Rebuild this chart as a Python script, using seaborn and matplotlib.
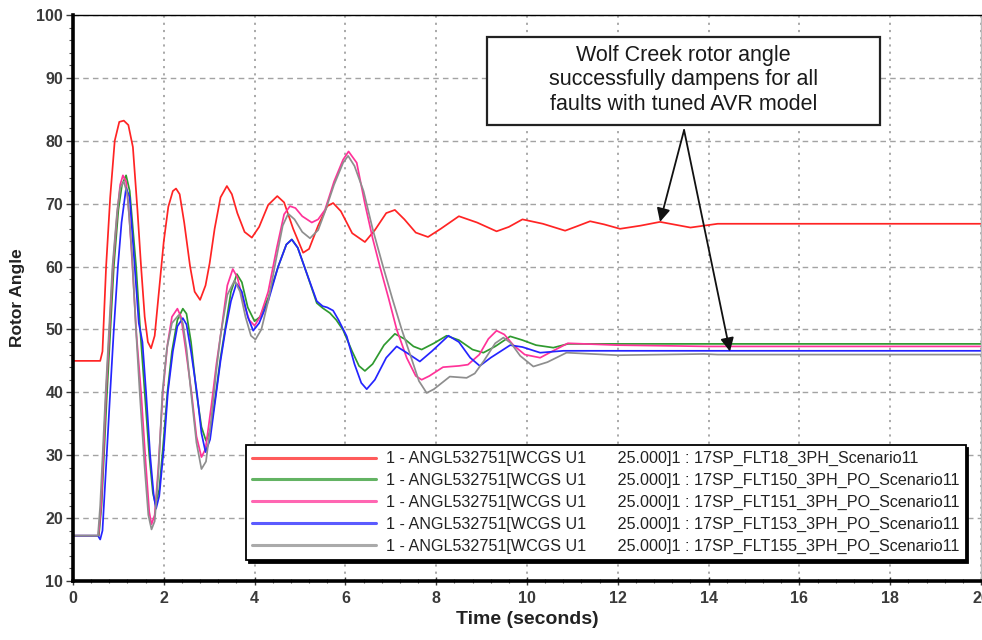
import matplotlib
matplotlib.use("Agg")
import matplotlib.pyplot as plt
from matplotlib.lines import Line2D
from matplotlib.patches import Rectangle
from matplotlib.ticker import MultipleLocator
import seaborn as sns
import pandas as pd

# ---------------- data ----------------
series_names = [
    "1 - ANGL532751[WCGS U1       25.000]1 : 17SP_FLT18_3PH_Scenario11",
    "1 - ANGL532751[WCGS U1       25.000]1 : 17SP_FLT150_3PH_PO_Scenario11",
    "1 - ANGL532751[WCGS U1       25.000]1 : 17SP_FLT151_3PH_PO_Scenario11",
    "1 - ANGL532751[WCGS U1       25.000]1 : 17SP_FLT153_3PH_PO_Scenario11",
    "1 - ANGL532751[WCGS U1       25.000]1 : 17SP_FLT155_3PH_PO_Scenario11",
]
series_colors = ["#ff2424", "#2f9a2f", "#ff3399", "#2424ff", "#8e8e8e"]

red_t = [0, 0.6, 0.65, 0.73, 0.82, 0.92, 1.02, 1.12, 1.22, 1.32,
         1.42, 1.5, 1.58, 1.65, 1.72, 1.8, 1.92, 2.0, 2.1, 2.2,
         2.27, 2.35, 2.45, 2.58, 2.68, 2.8, 2.92, 3.01, 3.12, 3.25,
         3.39, 3.5, 3.62, 3.78, 3.94, 4.1, 4.3, 4.5, 4.65, 4.85,
         5.07, 5.2, 5.4, 5.6, 5.73, 5.9, 6.15, 6.43, 6.65, 6.9,
         7.09, 7.3, 7.55, 7.82, 8.1, 8.5, 8.9, 9.33, 9.6, 9.9,
         10.35, 10.84, 11.1, 11.39, 11.7, 12.05, 12.5, 12.93, 13.6, 14.2,
         16, 20]
red_v = [45, 45, 46.5, 60, 71, 80, 83, 83.2, 82.5, 79,
         69, 60, 52, 48, 47, 49, 58, 64, 69.5, 72,
         72.4, 71.5, 67, 60, 56, 54.7, 57, 60.5, 66, 71,
         72.8, 71.5, 68.5, 65.5, 64.6, 66.3, 69.8, 71.2, 70.2, 66,
         62.2, 62.8, 66.5, 69.6, 70.1, 68.8, 65.3, 63.9, 65.8, 68.5,
         69, 67.5, 65.4, 64.7, 66, 68, 67, 65.6, 66.3, 67.5,
         66.8, 65.7, 66.4, 67.2, 66.7, 66, 66.5, 67.1, 66.2, 66.8,
         66.8, 66.8]

green_t = [0, 0.57, 0.63, 0.75, 0.9, 1.0, 1.08, 1.17, 1.25, 1.32,
           1.39, 1.48, 1.58, 1.68, 1.76, 1.82, 1.9, 1.98, 2.08, 2.18,
           2.3, 2.42, 2.5, 2.6, 2.72, 2.83, 2.93, 3.03, 3.15, 3.25,
           3.35, 3.48, 3.61, 3.72, 3.85, 4.0, 4.12, 4.3, 4.52, 4.7,
           4.82, 4.95, 5.15, 5.37, 5.5, 5.66, 5.8, 5.95, 6.15, 6.3,
           6.43, 6.6, 6.85, 7.09, 7.3, 7.5, 7.68, 7.95, 8.23, 8.5,
           8.8, 9.04, 9.3, 9.63, 9.9, 10.2, 10.58, 10.9, 12, 20]
green_v = [17.2, 17.2, 22, 40, 60, 69, 73, 74.5, 72, 66,
           60, 50, 40, 30, 24, 22.2, 24.5, 31, 40, 46.5,
           51.5, 53.3, 52.5, 48, 40, 34.5, 32.3, 34, 40, 45.5,
           50, 56, 58.8, 57.5, 53.5, 51.3, 52, 55, 60, 63.5,
           64.3, 63, 58.9, 54.2, 53.4, 52.6, 51.5, 49.9, 46.5, 44.2,
           43.4, 44.5, 47.5, 49.3, 48.5, 47.3, 46.8, 47.8, 49, 48.3,
           46.8, 46.3, 47.3, 48.9, 48.3, 47.5, 47.1, 47.7, 47.7, 47.7]

pink_t = [0, 0.56, 0.62, 0.73, 0.88, 0.98, 1.04, 1.1, 1.17, 1.24,
          1.31, 1.4, 1.5, 1.6, 1.68, 1.73, 1.8, 1.88, 1.98, 2.08,
          2.18, 2.3, 2.38, 2.48, 2.61, 2.72, 2.83, 2.92, 3.05, 3.16,
          3.27, 3.4, 3.52, 3.62, 3.75, 3.88, 4.0, 4.12, 4.3, 4.49,
          4.65, 4.78, 4.9, 5.05, 5.26, 5.4, 5.55, 5.75, 5.95, 6.07,
          6.25, 6.43, 6.6, 6.76, 6.95, 7.13, 7.35, 7.55, 7.68, 7.85,
          8.15, 8.5, 8.7, 8.95, 9.15, 9.33, 9.5, 9.7, 9.95, 10.29,
          10.55, 10.9, 12, 14, 20]
pink_v = [17.2, 17.2, 22, 40, 60, 69, 73, 74.5, 73.5, 68,
          60, 49, 40, 29, 21, 19, 20.5, 28, 40, 47.5,
          52, 53.3, 52, 47, 40, 33, 29.7, 31, 38, 44.5,
          50, 57, 59.6, 58.3, 54.5, 51.5, 50.6, 52, 56, 63,
          68.3, 69.6, 69.3, 68, 67, 67.5, 69, 73.5, 77, 78.3,
          76.5, 70, 64.5, 60, 55, 50, 45.5, 42.6, 42, 42.6,
          44, 44.2, 44.4, 46, 48.5, 49.8, 49.2, 47.5, 46, 45.5,
          46.5, 47.8, 47.5, 47.3, 47.3]

blue_t = [0, 0.55, 0.6, 0.65, 0.72, 0.82, 0.9, 0.99, 1.07, 1.17,
          1.25, 1.3, 1.36, 1.45, 1.53, 1.61, 1.7, 1.78, 1.83, 1.9,
          2.0, 2.09, 2.2, 2.3, 2.42, 2.5, 2.6, 2.73, 2.83, 2.92,
          3.02, 3.14, 3.25, 3.36, 3.48, 3.6, 3.72, 3.85, 3.97, 4.1,
          4.3, 4.52, 4.7, 4.82, 4.95, 5.15, 5.37, 5.5, 5.6, 5.73,
          5.85, 6.03, 6.2, 6.35, 6.47, 6.65, 6.9, 7.13, 7.35, 7.64,
          7.9, 8.27, 8.5, 8.75, 8.96, 9.2, 9.63, 9.9, 10.29, 10.8,
          12, 20]
blue_v = [17.2, 17.2, 16.6, 18, 27, 40, 50, 60, 67, 72.5,
          71, 66, 60, 51, 48, 40, 30, 23.5, 21.5, 23.5,
          31, 40, 46.5, 50.5, 51.8, 50.8, 46.5, 40, 33.5, 30.5,
          32.5, 39, 45, 50, 54.5, 57.3, 56, 52, 49.8, 51,
          54.5, 60, 63.5, 64.3, 63, 58.9, 54.5, 53.7, 53.5, 53,
          51.5, 48.9, 44.5, 41.5, 40.5, 42, 45.5, 47.3, 46.3, 44.9,
          46.5, 49, 48, 45.5, 44.2, 45.5, 47.5, 47.2, 46.3, 46.6,
          46.6, 46.6]

gray_t = [0, 0.55, 0.6, 0.72, 0.87, 0.97, 1.04, 1.12, 1.2, 1.3,
          1.38, 1.47, 1.58, 1.66, 1.73, 1.8, 1.88, 1.97, 2.07, 2.18,
          2.33, 2.42, 2.5, 2.6, 2.72, 2.83, 2.93, 3.05, 3.15, 3.25,
          3.4, 3.56, 3.68, 3.8, 3.92, 4.02, 4.15, 4.3, 4.47, 4.62,
          4.74, 4.88, 5.05, 5.22, 5.4, 5.55, 5.75, 5.95, 6.06, 6.2,
          6.4, 6.6, 6.83, 7.03, 7.24, 7.45, 7.62, 7.79, 7.95, 8.3,
          8.67, 8.85, 9.05, 9.3, 9.48, 9.65, 9.85, 10.14, 10.45, 10.87,
          12, 13.9, 14.2, 20]
gray_v = [17.2, 17.2, 22, 40, 60, 68.5, 72.5, 73.5, 71.5, 62,
          51, 40, 28, 20.5, 18.2, 19.5, 27, 40, 47, 51,
          52.3, 51, 47, 40, 32, 27.8, 29, 36, 43, 49,
          55.5, 57.8, 56, 52, 49, 48.4, 50, 54.5, 61, 66.5,
          68.4, 67.5, 65.5, 64.5, 65.8, 68.7, 73, 76.5, 77.6, 76,
          72, 66, 60, 55, 50, 45.5, 41.8, 39.9, 40.5, 42.5,
          42.3, 43, 45, 47.8, 48.7, 47.8, 45.8, 44.1, 44.8, 46.3,
          45.9, 46.1, 46, 46]

x_ticks = [0, 2, 4, 6, 8, 10, 12, 14, 16, 18, 20]
y_ticks = [10, 20, 30, 40, 50, 60, 70, 80, 90, 100]
annotation_text = ("Wolf Creek rotor angle\n"
                   "successfully dampens for all\n"
                   "faults with tuned AVR model")

# ---------------- build long table ----------------
all_t = [red_t, green_t, pink_t, blue_t, gray_t]
all_v = [red_v, green_v, pink_v, blue_v, gray_v]
frames = []
for name, tt, vv in zip(series_names, all_t, all_v):
    frames.append(pd.DataFrame({"t": tt, "v": vv, "series": name}))
df = pd.concat(frames, ignore_index=True)

# ---------------- figure ----------------
sns.set_style("white")
plt.rcParams["font.family"] = ["Liberation Sans", "DejaVu Sans"]

fig = plt.figure(figsize=(9.82, 6.4), dpi=100)
ax = fig.add_axes([0.0743, 0.0922, 0.9247, 0.8844])

sns.lineplot(data=df, x="t", y="v", hue="series", hue_order=series_names,
             palette=dict(zip(series_names, series_colors)),
             sort=False, estimator=None, linewidth=1.25, legend=False, ax=ax)

ax.set_xlim(0, 20)
ax.set_ylim(10, 100)
ax.set_xticks(x_ticks)
ax.set_yticks(y_ticks)
ax.xaxis.set_minor_locator(MultipleLocator(0.4))
ax.yaxis.set_minor_locator(MultipleLocator(2))

ax.yaxis.grid(True, which="major", linestyle=(0, (4, 3)), color="#a3a3a3", linewidth=1.0)
ax.xaxis.grid(True, which="major", linestyle=(0, (1.2, 2.8)), color="#a3a3a3", linewidth=1.3)
ax.set_axisbelow(True)

for s in ["left", "bottom"]:
    ax.spines[s].set_color("black")
    ax.spines[s].set_linewidth(2.6)
ax.spines["top"].set_color("black")
ax.spines["top"].set_linewidth(1.0)
ax.spines["right"].set_color("#bbbbbb")
ax.spines["right"].set_linewidth(1.0)

tick_col = "#3a3a3a"
ax.tick_params(axis="both", which="major", labelsize=11.5, colors=tick_col)
ax.tick_params(axis="y", which="major", direction="out", length=5, width=1, left=True, pad=2)
ax.tick_params(axis="y", which="minor", direction="out", length=3, width=0.8, left=True, color="#555555")
ax.tick_params(axis="x", which="major", direction="inout", length=6, width=1, bottom=True, pad=4)
ax.tick_params(axis="x", which="minor", direction="inout", length=3, width=0.8, bottom=True, color="#555555")
for lab in ax.get_xticklabels() + ax.get_yticklabels():
    lab.set_fontweight("bold")
    lab.set_color(tick_col)

ax.set_xlabel("Time (seconds)", fontsize=14, fontweight="bold", color="#222222", labelpad=4)
ax.set_ylabel("Rotor Angle", fontsize=12.5, fontweight="bold", color="#222222", labelpad=8)

# legend
handles = [Line2D([0], [0], color=c, lw=2.2, alpha=0.75) for c in series_colors]
leg = ax.legend(handles, series_names, loc="lower right", bbox_to_anchor=(0.983, 0.037),
                borderaxespad=0, fontsize=11.6, handlelength=7.7, handletextpad=0.6,
                labelspacing=0.42, borderpad=0.38, frameon=True, fancybox=False,
                framealpha=1, edgecolor="black", shadow={"color": "black", "alpha": 1})
leg.get_frame().set_linewidth(1.3)
for txt in leg.get_texts():
    txt.set_color("#222222")

# annotation box and arrows
box = Rectangle((0.456, 0.806), 0.433, 0.155, transform=ax.transAxes,
                facecolor="white", edgecolor="#222222", linewidth=1.6, zorder=5)
ax.add_patch(box)
ax.text(0.6725, 0.8855, annotation_text, transform=ax.transAxes, ha="center", va="center",
        fontsize=15.5, linespacing=1.22, color="#1a1a1a", zorder=6)

arrow_props = dict(arrowstyle="-|>", color="#111111", lw=1.3, mutation_scale=20,
                   shrinkA=0, shrinkB=0)
ax.annotate("", xy=(12.93, 67.1), xytext=(13.46, 81.7), arrowprops=arrow_props, zorder=6)
ax.annotate("", xy=(14.47, 46.5), xytext=(13.46, 81.7), arrowprops=arrow_props, zorder=6)

fig.savefig("out.png", dpi=100)
